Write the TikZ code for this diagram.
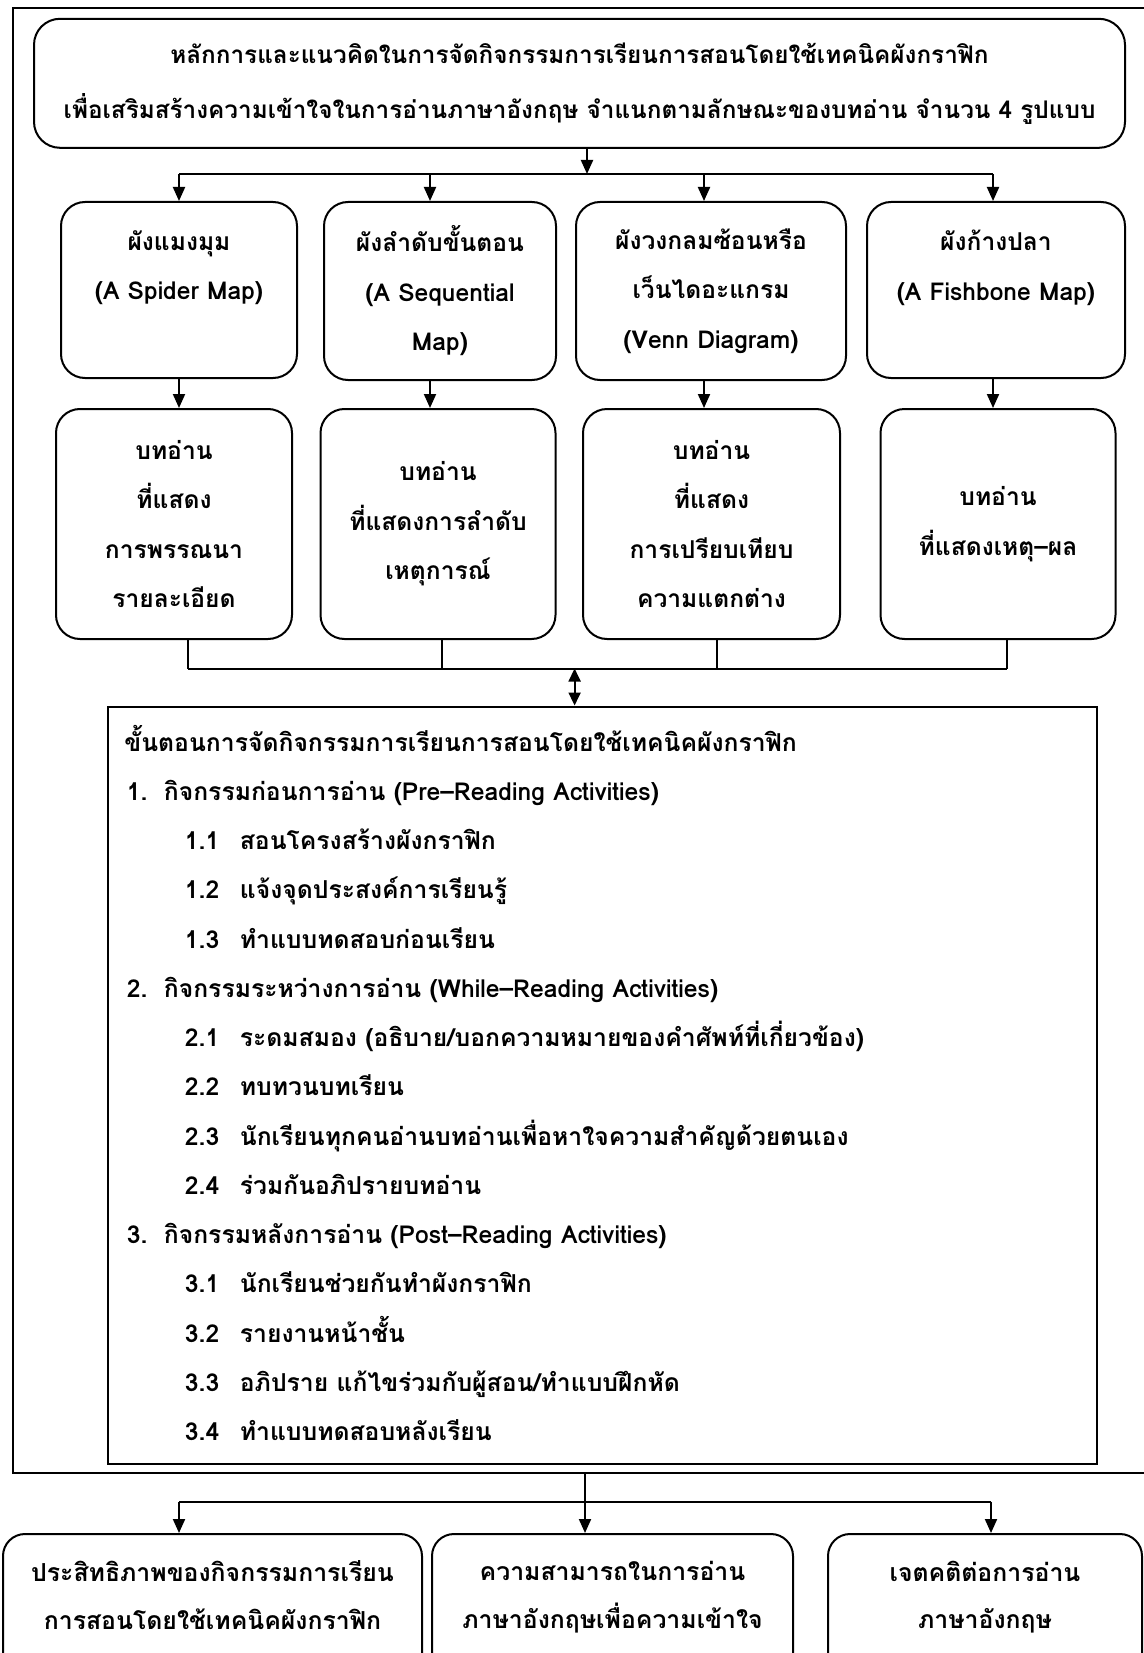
\documentclass[tikz,border=0pt]{standalone}
\usepackage{fontspec}
\setmainfont[Script=Thai]{Loma}
\usetikzlibrary{arrows.meta}
\newcommand{\lvA}[2]{\makebox[18.5pt][l]{#1}#2}
\newcommand{\lvB}[2]{\makebox[27.5pt][l]{#1}#2}
\tikzset{
  ln/.style={line width=1pt},
  arr/.style={line width=1pt,-{Triangle[length=7pt,width=6pt]}},
  dbl/.style={line width=1pt,{Triangle[length=6.5pt,width=6pt]}-{Triangle[length=6.5pt,width=6pt]}},
  box/.style={draw,line width=1pt,rounded corners=12pt,align=center,inner sep=0pt,
    font=\bfseries\fontsize{12.3}{24.75}\selectfont},
  plain/.style={draw,line width=1pt,inner sep=0pt},
  txt/.style={inner sep=0pt,align=center,font=\bfseries\fontsize{12.4}{23.7}\selectfont},
  stp/.style={inner sep=0pt,anchor=base west,font=\bfseries\fontsize{12.35}{14}\selectfont},
}
\begin{document}
\begin{tikzpicture}[x=0.5pt,y=-0.5pt]
\useasboundingbox[fill=white] (0,0) rectangle (1144,1653);
\clip (0,0) rectangle (1144,1653);
% outer frame (its right side lies past the picture's edge)
\node[plain,minimum width=1140*0.5pt,minimum height=1465*0.5pt] (frame) at (582.7,740.5) {};
% top box
\node[box,rounded corners=13pt,minimum width=1091*0.5pt,minimum height=129*0.5pt,
  font=\bfseries\fontsize{12.15}{27.5}\selectfont] (top) at (579.5,83.3)
  {หลักการและแนวคิดในการจัดกิจกรรมการเรียนการสอนโดยใช้เทคนิคผังกราฟิก\\
   เพื่อเสริมสร้างความเข้าใจในการอ่านภาษาอังกฤษ จำแนกตามลักษณะของบทอ่าน จำนวน 4 รูปแบบ};
% row 1
\node[box,minimum width=236*0.5pt,minimum height=176*0.5pt] (s1) at (179,290)
  {ผังแมงมุม\\(A Spider Map)\\ };
\node[box,minimum width=232*0.5pt,minimum height=178*0.5pt] (s2) at (440,291)
  {ผังลำดับขั้นตอน\\(A Sequential\\Map)};
\node[box,minimum width=270*0.5pt,minimum height=178*0.5pt] (s3) at (711,291)
  {ผังวงกลมซ้อนหรือ\\เว็นไดอะแกรม\\(Venn Diagram)};
\node[box,minimum width=258*0.5pt,minimum height=176*0.5pt] (s4) at (996,290)
  {ผังก้างปลา\\(A Fishbone Map)\\ };
% row 2
\node[box,minimum width=236*0.5pt,minimum height=230*0.5pt] (r1) at (174,524)
  {บทอ่าน\\ที่แสดง\\การพรรณนา\\รายละเอียด};
\node[box,minimum width=235*0.5pt,minimum height=230*0.5pt] (r2) at (438,524)
  {บทอ่าน\\ที่แสดงการลำดับ\\เหตุการณ์};
\node[box,minimum width=257*0.5pt,minimum height=230*0.5pt] (r3) at (711.5,524)
  {บทอ่าน\\ที่แสดง\\การเปรียบเทียบ\\ความแตกต่าง};
\node[box,minimum width=235*0.5pt,minimum height=230*0.5pt] (r4) at (998,524)
  {บทอ่าน\\ที่แสดงเหตุ--ผล};
% connectors top
\coordinate (hub) at (587,174);
\coordinate (h1) at (179,174);
\coordinate (h2) at (430,174);
\coordinate (h3) at (704,174);
\coordinate (h4) at (993,174);
\draw[arr] (top.south -| hub) -- (hub);
\draw[ln] (h1) -- (h4);
\draw[arr] (h1) -- (s1.north -| h1);
\draw[arr] (h2) -- (s2.north -| h2);
\draw[arr] (h3) -- (s3.north -| h3);
\draw[arr] (h4) -- (s4.north -| h4);
\draw[arr] (s1.south -| h1) -- (r1.north -| h1);
\draw[arr] (s2.south -| h2) -- (r2.north -| h2);
\draw[arr] (s3.south -| h3) -- (r3.north -| h3);
\draw[arr] (s4.south -| h4) -- (r4.north -| h4);
% procedure box
\node[plain,minimum width=989*0.5pt,minimum height=757*0.5pt] (proc) at (602,1085) {};
% lower connectors
\coordinate (j1) at (187.7,668.5);
\coordinate (j2) at (441.8,668.5);
\coordinate (j3) at (717,668.5);
\coordinate (j4) at (1007,668.5);
\coordinate (jm) at (574.6,668.5);
\draw[ln] (r1.south -| j1) -- (j1);
\draw[ln] (r2.south -| j2) -- (j2);
\draw[ln] (r3.south -| j3) -- (j3);
\draw[ln] (r4.south -| j4) -- (j4);
\draw[ln] (j1) -- (j4);
\draw[dbl] (jm) -- (proc.north -| jm);
% procedure text
\node[stp] (p0) at (124,751) {ขั้นตอนการจัดกิจกรรมการเรียนการสอนโดยใช้เทคนิคผังกราฟิก};
\node[stp] (p1) at (126.5,800.3) {\lvA{1.}{กิจกรรมก่อนการอ่าน (Pre--Reading Activities)}};
\node[stp] (p2) at (184.5,849.5) {\lvB{1.1}{สอนโครงสร้างผังกราฟิก}};
\node[stp] (p3) at (184.5,898.8) {\lvB{1.2}{แจ้งจุดประสงค์การเรียนรู้}};
\node[stp] (p4) at (184.5,948) {\lvB{1.3}{ทำแบบทดสอบก่อนเรียน}};
\node[stp] (p5) at (126.5,997.3) {\lvA{2.}{กิจกรรมระหว่างการอ่าน (While--Reading Activities)}};
\node[stp] (p6) at (184.5,1046.5) {\lvB{2.1}{ระดมสมอง (อธิบาย/บอกความหมายของคำศัพท์ที่เกี่ยวข้อง)}};
\node[stp] (p7) at (184.5,1095.8) {\lvB{2.2}{ทบทวนบทเรียน}};
\node[stp] (p8) at (184.5,1145) {\lvB{2.3}{นักเรียนทุกคนอ่านบทอ่านเพื่อหาใจความสำคัญด้วยตนเอง}};
\node[stp] (p9) at (184.5,1194.3) {\lvB{2.4}{ร่วมกันอภิปรายบทอ่าน}};
\node[stp] (p10) at (126.5,1243.5) {\lvA{3.}{กิจกรรมหลังการอ่าน (Post--Reading Activities)}};
\node[stp] (p11) at (184.5,1292.8) {\lvB{3.1}{นักเรียนช่วยกันทำผังกราฟิก}};
\node[stp] (p12) at (184.5,1342) {\lvB{3.2}{รายงานหน้าชั้น}};
\node[stp] (p13) at (184.5,1391.3) {\lvB{3.3}{อภิปราย แก้ไขร่วมกับผู้สอน/ทำแบบฝึกหัด}};
\node[stp] (p14) at (184.5,1440.5) {\lvB{3.4}{ทำแบบทดสอบหลังเรียน}};
% bottom boxes (their lower edges lie past the picture's edge)
\node[plain,rounded corners=11pt,minimum width=419*0.5pt,minimum height=170*0.5pt,anchor=north] (o1) at (212.5,1533) {};
\node[plain,rounded corners=11pt,minimum width=361*0.5pt,minimum height=170*0.5pt,anchor=north] (o2) at (612.5,1533) {};
\node[plain,rounded corners=11pt,minimum width=314*0.5pt,minimum height=170*0.5pt,anchor=north] (o3) at (985,1533) {};
\node[txt] (t1) at (212.5,1595) {ประสิทธิภาพของกิจกรรมการเรียน\\การสอนโดยใช้เทคนิคผังกราฟิก};
\node[txt] (t2) at (612.5,1597) {ความสามารถในการอ่าน\\ภาษาอังกฤษเพื่อความเข้าใจ};
\node[txt] (t3) at (985,1597) {เจตคติต่อการอ่าน\\ภาษาอังกฤษ};
\coordinate (b1) at (179,1501.5);
\coordinate (b3) at (991,1501.5);
\coordinate (bm) at (585,1501.5);
\draw[ln] (b1) -- (b3);
\draw[arr] (frame.south -| bm) -- (o2.north -| bm);
\draw[arr] (b1) -- (o1.north -| b1);
\draw[arr] (b3) -- (o3.north -| b3);
\end{tikzpicture}
\end{document}
